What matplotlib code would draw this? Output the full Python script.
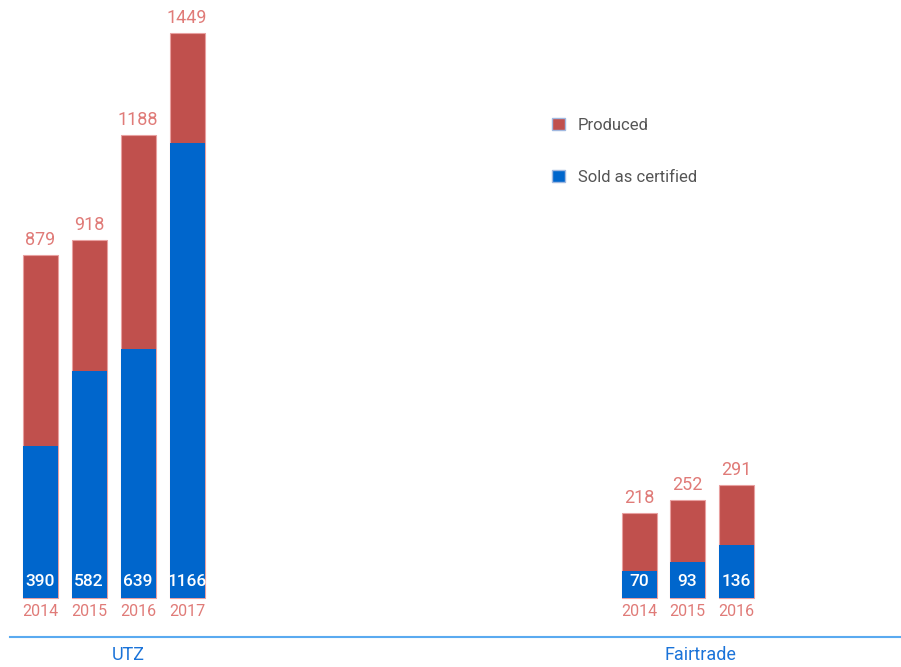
import matplotlib.pyplot as plt
import numpy as np

plt.rcParams['font.family'] = ['Roboto', 'DejaVu Sans']

utz_years = ['2014', '2015', '2016', '2017']
utz_produced = [879, 918, 1188, 1449]
utz_sold = [390, 582, 639, 1166]

ft_years = ['2014', '2015', '2016']
ft_produced = [218, 252, 291]
ft_sold = [70, 93, 136]

red = '#c0504d'
blue = '#0066cc'
salmon = '#e07b78'

fig = plt.figure(figsize=(9.01, 6.67), dpi=100)
ax = fig.add_axes([0, 0, 1, 1])
# pixel-ish x axis, value y axis with baseline 69 px above bottom
scale = 2.565
ax.set_xlim(0, 901)
ax.set_ylim(-69 * scale, (667 - 69) * scale)
ax.axis('off')

w = 35
groups = [
    (40, 49, utz_years, utz_produced, utz_sold),
    (639, 48.5, ft_years, ft_produced, ft_sold),
]
for x0, step, years, prod, sold in groups:
    xs = x0 + step * np.arange(len(years))
    ax.bar(xs, prod, width=w, color=red, edgecolor='#e8a0a0', linewidth=0.8)
    ax.bar(xs, sold, width=w, color=blue, linewidth=0)
    for x, p, s, yr in zip(xs, prod, sold, years):
        ax.text(x, p + 6 * scale, str(p), ha='center', va='bottom',
                fontsize=13, color=salmon)
        ax.text(x, 17 * scale, str(s), ha='center', va='center',
                fontsize=12.5, color='white', fontweight='medium')
        ax.text(x, -13 * scale, yr, ha='center', va='center',
                fontsize=11.5, color=salmon)

# separator line and group names
ax.plot([10, 900], [-39 * scale, -39 * scale], color='#5aaaf0', lw=1.5)
ax.text(128, -57 * scale, 'UTZ', ha='center', va='center', fontsize=13, color='#1a73d9')
ax.text(700, -57 * scale, 'Fairtrade', ha='center', va='center', fontsize=13, color='#1a73d9')

# legend
h1 = plt.Rectangle((0, 0), 1, 1, facecolor=red, edgecolor='#a0b8e0', lw=1)
h2 = plt.Rectangle((0, 0), 1, 1, facecolor=blue, edgecolor='#a0b8e0', lw=1)
leg = ax.legend([h1, h2], ['Produced', 'Sold as certified'],
                loc='upper left', bbox_to_anchor=(537 / 901, 1 - 103 / 667),
                frameon=False, fontsize=12, labelspacing=2.2,
                handlelength=0.75, handleheight=0.75, handletextpad=0.8)
for t in leg.get_texts():
    t.set_color('#555555')

fig.savefig('out.png', dpi=100)
